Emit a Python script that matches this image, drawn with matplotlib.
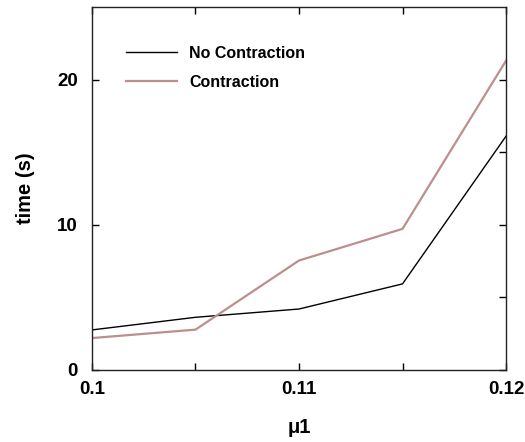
import matplotlib
matplotlib.use("Agg")
import matplotlib.pyplot as plt

mu1 = [0.1, 0.105, 0.11, 0.115, 0.12]
no_contraction = [2.76, 3.63, 4.2, 5.93, 16.1]
contraction = [2.2, 2.78, 7.54, 9.72, 21.3]
x_tick_labels = ["0.1", "0.11", "0.12"]
y_tick_labels = ["0", "10", "20"]

plt.rcParams['font.family'] = ['Liberation Sans', 'DejaVu Sans']
plt.rcParams['font.weight'] = 'bold'

fig = plt.figure(figsize=(5.25, 4.42), dpi=100)
ax = fig.add_axes([92/525, 72/442, 414/525, 363/442])

ax.plot(mu1, no_contraction, color='black', lw=1.0, label='No Contraction')
ax.plot(mu1, contraction, color='#bc8f8f', lw=1.6, label='Contraction')

ax.set_xlim(0.1, 0.12)
ax.set_ylim(0, 25)

ax.set_xticks([0.1, 0.11, 0.12])
ax.set_xticklabels(x_tick_labels, fontsize=13.5, fontweight='bold')
ax.set_xticks([0.105, 0.115], minor=True)
ax.set_yticks([0, 10, 20])
ax.set_yticklabels(y_tick_labels, fontsize=13.5, fontweight='bold')
ax.set_yticks([5, 15], minor=True)

ax.tick_params(axis='both', which='both', direction='in', top=True, right=True, length=5, width=1)
ax.tick_params(axis='x', which='major', pad=8)
ax.tick_params(axis='y', which='major', pad=10)
ax.tick_params(axis='y', which='minor', left=False)

for s in ax.spines.values():
    s.set_linewidth(1.0)
    s.set_color('#222222')

ax.set_xlabel('μ1', fontsize=14.5, fontweight='bold', labelpad=14)
ax.set_ylabel('time (s)', fontsize=14.5, fontweight='bold', labelpad=16)

leg = ax.legend(loc='upper left', bbox_to_anchor=((126-92)/414, (370-46)/363), frameon=False,
                handlelength=3.2, handletextpad=0.75, labelspacing=0.85,
                borderpad=0, borderaxespad=0,
                prop={'weight': 'bold', 'size': 11.5})

fig.savefig('out.png', dpi=100)
